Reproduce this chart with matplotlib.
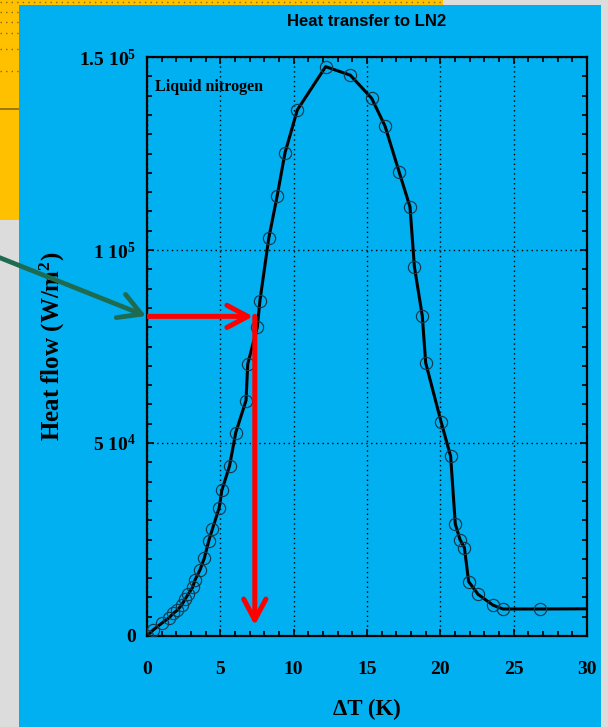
import matplotlib
matplotlib.use('Agg')
import matplotlib.pyplot as plt
from matplotlib.patches import Rectangle, FancyArrowPatch
from matplotlib.lines import Line2D
from matplotlib.ticker import MultipleLocator, FixedLocator

# ---------------- data ----------------
delta_T = [0.0, 0.43, 1.0, 1.5, 1.8, 2.07, 2.36, 2.59, 2.82, 3.11, 3.27, 3.61,
           3.9, 4.2, 4.45, 4.92, 5.1, 5.63, 6.05, 6.75, 6.87, 7.52, 7.70, 8.30,
           8.88, 9.41, 10.25, 12.18, 13.86, 15.32, 16.23, 17.20, 17.93, 18.23,
           18.77, 19.0, 20.05, 20.70, 21.02, 21.34, 21.64, 21.93, 22.57, 23.61,
           24.27, 26.82]
heat_flow = [0, 1600, 3300, 4700, 5900, 6700, 8000, 9500, 10900, 12600, 14500,
             17100, 20100, 24500, 27600, 33200, 37700, 44100, 52700, 61000,
             70500, 80000, 86900, 103000, 114100, 125200, 136300, 147500,
             145300, 139300, 132100, 120100, 111200, 95700, 82900, 70800,
             55500, 46600, 29000, 25000, 22900, 14100, 10800, 7950, 7000, 7000]
line_end_dT = 30.0
line_end_q = 7050

x_ticks = [0, 5, 10, 15, 20, 25, 30]
x_tick_labels = ['0', '5', '10', '15', '20', '25', '30']
y_ticks = [0, 50000, 100000, 150000]
y_tick_labels = ['0', '5 10$^{4}$', '1 10$^{5}$', '1.5 10$^{5}$']

read_q = 82800
read_dT_h = 7.23   # horizontal arrow tip
read_dT_v = 7.35   # vertical arrow position
read_q_end = 2800  # vertical arrow tip

title = 'Heat transfer to LN2'
inset_label = 'Liquid nitrogen'
x_label = '\u0394T (K)'
y_label = 'Heat flow (W/m$^{2}$)'

# ---------------- style ----------------
plt.rcParams['font.family'] = ['Liberation Serif', 'DejaVu Serif']
plt.rcParams['font.weight'] = 'bold'
plt.rcParams['mathtext.fontset'] = 'custom'
plt.rcParams['mathtext.rm'] = 'Liberation Serif:bold'
plt.rcParams['mathtext.bf'] = 'Liberation Serif:bold'
plt.rcParams['mathtext.it'] = 'Liberation Serif:italic:bold'
plt.rcParams['mathtext.default'] = 'rm'

W, H = 608, 727
def fx(px):
    return px / W
def fy(py):
    return 1 - py / H

BLUE = '#00B0F0'
YELLOW = '#FFC000'

fig = plt.figure(figsize=(W / 100, H / 100), dpi=100, facecolor='#DCDCDC')

# background slide pieces
fig.add_artist(Rectangle((0, fy(220)), fx(443), 220 / H, transform=fig.transFigure,
                         facecolor=YELLOW, edgecolor='none', zorder=-3))
fig.add_artist(Line2D([0, fx(443)], [fy(2), fy(2)], transform=fig.transFigure,
                      color='#8A6A10', lw=1.0, ls=(0, (1, 3)), zorder=-2))
for yy in [12, 22, 33, 49, 71]:
    fig.add_artist(Line2D([0, fx(19)], [fy(yy), fy(yy)], transform=fig.transFigure,
                          color='#8A6A10', lw=1.0, ls=(0, (1, 3)), zorder=-2))
fig.add_artist(Line2D([0, fx(19)], [fy(109), fy(109)], transform=fig.transFigure,
                      color='#8A6A10', lw=1.2, zorder=-2))
fig.add_artist(Rectangle((fx(19), 0), (601 - 19) / W, (727 - 5) / H,
                         transform=fig.transFigure, facecolor=BLUE,
                         edgecolor='none', zorder=-1))

# axes
ax = fig.add_axes([fx(147), fy(636), 440 / W, 579 / H])
ax.set_facecolor(BLUE)
ax.set_xlim(0, 30)
ax.set_ylim(0, 150000)

ax.plot(delta_T + [line_end_dT], heat_flow + [line_end_q], color='black', lw=2.2,
        zorder=3, solid_joinstyle='round')
ax.plot(delta_T, heat_flow, ls='none', marker='o', ms=8.8, mfc='none',
        mec='#15384C', mew=0.85, zorder=4)

ax.xaxis.set_major_locator(FixedLocator(x_ticks))
ax.set_xticklabels(x_tick_labels)
ax.xaxis.set_minor_locator(MultipleLocator(1))
ax.yaxis.set_major_locator(FixedLocator(y_ticks))
ax.set_yticklabels(y_tick_labels)
ax.yaxis.set_minor_locator(MultipleLocator(5000))

ax.grid(True, which='major', color='black', lw=1.0, ls=(0, (1, 2.5)))
ax.tick_params(which='both', direction='in', top=True, right=True, width=1.2,
               labelsize=14, colors='black')
ax.tick_params(which='major', length=5)
ax.tick_params(which='minor', length=3.5)
ax.tick_params(axis='x', pad=18)
ax.tick_params(axis='y', pad=8)
for sp in ax.spines.values():
    sp.set_linewidth(1.6)

# red reading arrows
ax.add_patch(FancyArrowPatch((0, read_q), (read_dT_h, read_q),
                             arrowstyle='->,head_length=15,head_width=8',
                             mutation_scale=1, color='#FF0000', lw=3.6,
                             shrinkA=0, shrinkB=0, capstyle='round',
                             joinstyle='round', zorder=6))
ax.add_patch(FancyArrowPatch((read_dT_v, read_q), (read_dT_v, read_q_end),
                             arrowstyle='->,head_length=15,head_width=8',
                             mutation_scale=1, color='#FF0000', lw=3.6,
                             shrinkA=0, shrinkB=0, capstyle='round',
                             joinstyle='round', zorder=6))

# green pointer from the slide
fig.add_artist(FancyArrowPatch((fx(-2), fy(257)), (fx(146), fy(316)),
                               transform=fig.transFigure,
                               arrowstyle='->,head_length=16,head_width=9',
                               mutation_scale=1, color='#1F6B50', lw=3.4,
                               shrinkA=0, shrinkB=0, capstyle='round',
                               joinstyle='round', zorder=5))

# texts
fig.text(fx(367), fy(22), title, ha='center', va='center', fontsize=12,
         family='Liberation Sans', weight='bold')
fig.text(fx(155), fy(87), inset_label, ha='left', va='center', fontsize=11.5,
         weight='bold')
fig.text(fx(367), fy(709), x_label, ha='center', va='center', fontsize=16.5,
         weight='bold')
fig.text(fx(52), fy(346), y_label, ha='center', va='center', fontsize=18,
         weight='bold', rotation=90)

fig.savefig('out.png', dpi=100, facecolor=fig.get_facecolor())
